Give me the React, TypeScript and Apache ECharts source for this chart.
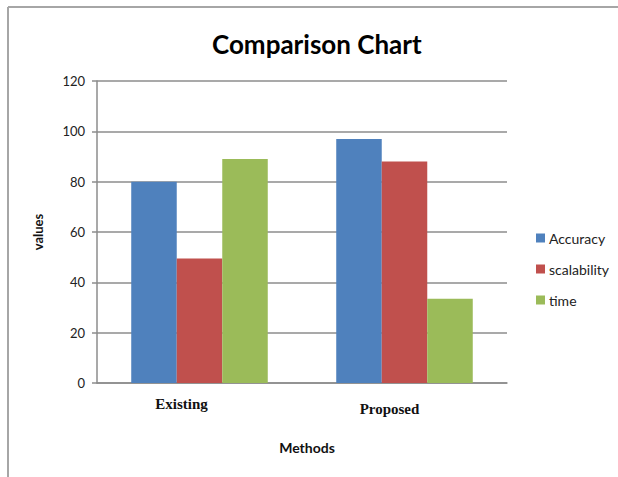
import React, { useEffect, useRef } from "react";
import * as echarts from "echarts";

const categories = ["Existing", "Proposed"];
const accuracy = [80, 97];
const scalability = [49.5, 88];
const time = [89, 33.5];
const seriesNames = ["Accuracy", "scalability", "time"];
const colors = ["#4F81BD", "#C0504D", "#9BBB59"];

export default function App() {
  const ref = useRef<HTMLDivElement>(null);
  useEffect(() => {
    if (!ref.current) return;
    const chart = echarts.init(ref.current, null, { renderer: "svg" });
    const values = [accuracy, scalability, time];
    chart.setOption({
      animation: false,
      backgroundColor: "#ffffff",
      title: {
        text: "Comparison Chart",
        left: 207,
        top: 26,
        textStyle: { fontFamily: "Lato", fontWeight: "bold", fontSize: 26, color: "#000" },
      },
      legend: {
        orient: "vertical",
        left: 531,
        top: 226,
        itemWidth: 9,
        itemHeight: 9,
        itemGap: 17,
        icon: "rect",
        textStyle: { fontFamily: "Lato", fontSize: 14, color: "#222", padding: [0, 0, 0, -1] },
        data: seriesNames,
      },
      grid: { left: 97, top: 81, width: 410, height: 302, containLabel: false },
      xAxis: {
        type: "category",
        data: categories.map((c, i) => ({
          value: c,
          textStyle: { padding: i === 0 ? [0, 36, 0, 0] : [5, 30, 0, 0] },
        })),
        axisLine: { lineStyle: { color: "#8c8c8c", width: 1.5 } },
        axisTick: { show: false },
        axisLabel: {
          margin: 13,
          fontFamily: "Liberation Serif",
          fontWeight: "bold",
          fontSize: 15,
          color: "#111",
        },
      },
      yAxis: {
        type: "value",
        min: 0,
        max: 120,
        interval: 20,
        axisLine: { show: true, lineStyle: { color: "#8c8c8c", width: 1.5 } },
        axisTick: { show: true, length: 5, lineStyle: { color: "#8c8c8c", width: 1.5 } },
        splitLine: { lineStyle: { color: "#8c8c8c", width: 1.5 } },
        axisLabel: { margin: 12, fontFamily: "Lato", fontSize: 13, color: "#222" },
      },
      graphic: [
        { type: "line", shape: { x1: 8, y1: 7, x2: 618, y2: 7 }, style: { stroke: "#a6a6a6", lineWidth: 2 } },
        { type: "line", shape: { x1: 8, y1: 7, x2: 8, y2: 477 }, style: { stroke: "#a6a6a6", lineWidth: 2 } },
        {
          type: "text",
          x: 38,
          y: 232,
          rotation: Math.PI / 2,
          style: {
            text: "values",
            fontFamily: "Lato",
            fontWeight: "bold",
            fontSize: 13,
            fill: "#111",
            align: "center",
            verticalAlign: "middle",
          },
        },
        {
          type: "text",
          x: 307,
          y: 447,
          style: {
            text: "Methods",
            fontFamily: "Lato",
            fontWeight: "bold",
            fontSize: 14,
            fill: "#111",
            align: "center",
            verticalAlign: "middle",
          },
        },
      ],
      series: seriesNames.map((name, i) => ({
        name,
        type: "bar",
        data: values[i],
        itemStyle: { color: colors[i] },
        barGap: "0%",
        barCategoryGap: "33.4%",
      })),
    });
    return () => chart.dispose();
  }, []);
  return <div ref={ref} style={{ position: "fixed", left: 0, top: 0, width: 618, height: 477 }} />;
}
